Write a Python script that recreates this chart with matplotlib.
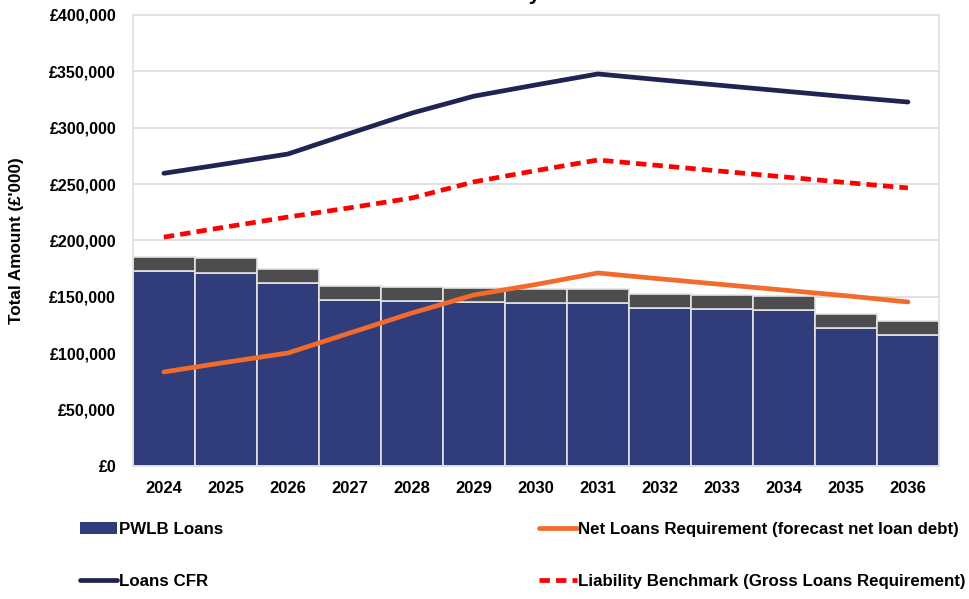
import matplotlib.pyplot as plt
from matplotlib.patches import Patch
from matplotlib.ticker import FuncFormatter

years = ["2024", "2025", "2026", "2027", "2028", "2029", "2030",
         "2031", "2032", "2033", "2034", "2035", "2036"]

# values in £'000
pwlb_loans = [173000, 171500, 162600, 147200, 146300, 145500, 144300,
              144300, 140100, 139000, 138400, 122100, 116200]
other_loans = [12400, 13000, 12400, 12400, 12700, 12100, 12400,
               12400, 12400, 12400, 12400, 12700, 12700]
loans_cfr = [259600, 268000, 276700, 295000, 313000, 328000, 338000,
             347700, 342500, 337500, 332500, 327500, 322800]
net_loans = [83400, 92000, 100200, 118000, 135700, 151700, 161000,
             171200, 166000, 161000, 156000, 151000, 145500]
liability_bm = [203000, 212000, 220800, 229000, 237700, 252000, 262000,
                271400, 266400, 261400, 256400, 251400, 246600]

plt.rcParams["font.family"] = ["Liberation Sans", "DejaVu Sans"]
plt.rcParams["font.weight"] = "bold"

fig = plt.figure(figsize=(9.7, 5.99), dpi=100)
ax = fig.add_axes([0.137, 0.222, 0.831, 0.753])

x = range(len(years))
ax.bar(x, pwlb_loans, width=1.0, color="#303D7A", edgecolor="#E3E3E3", lw=1.2, zorder=2)
ax.bar(x, other_loans, bottom=pwlb_loans, width=1.0, color="#4D4D4F", edgecolor="#E3E3E3", lw=1.2, zorder=2)

l1, = ax.plot(x, loans_cfr, color="#1F2452", lw=3.4, solid_capstyle="round", zorder=3)
l2, = ax.plot(x, net_loans, color="#F26A2C", lw=3.4, solid_capstyle="round", zorder=3)
l3, = ax.plot(x, liability_bm, color="#FF0000", lw=3.4, ls=(0, (2.2, 1.3)), zorder=3)

ax.set_xlim(-0.5, 12.5)
ax.set_ylim(0, 400000)
ax.set_yticks(range(0, 400001, 50000))
ax.yaxis.set_major_formatter(FuncFormatter(lambda v, p: f"£{int(v):,}"))
ax.set_xticks(list(x))
ax.set_xticklabels(years)
ax.tick_params(axis="both", length=0, colors="black")
ax.tick_params(axis="x", pad=11, labelsize=12)
ax.tick_params(axis="y", pad=12, labelsize=11.5)
ax.grid(axis="y", color="#DADADA", lw=1.2, zorder=0)
for s in ax.spines.values():
    s.set_color("#E0E0E0")
    s.set_linewidth(1.2)

ax.set_ylabel("Total Amount (£'000)", fontsize=12.3, fontweight="bold", labelpad=18)

# title is cut off at the top edge in the source
fig.text(0.578, 1 - 0.3 / 599, "Liability Benchmark", ha="center", va="baseline",
         fontsize=15, fontweight="bold")

pwlb_patch = Patch(facecolor="#303D7A", edgecolor="none")
leg_kw = dict(loc="upper left", frameon=False, fontsize=12.2, handlelength=2.2,
              handletextpad=0.1, labelspacing=2.2, borderpad=0, borderaxespad=0)
fig.legend([pwlb_patch, l1], ["PWLB Loans", "Loans CFR"],
           bbox_to_anchor=(0.082, 0.1286), **leg_kw)
fig.legend([l2, l3], ["Net Loans Requirement (forecast net loan debt)",
                      "Liability Benchmark (Gross Loans Requirement)"],
           bbox_to_anchor=(0.556, 0.1286), **leg_kw)

fig.savefig("out.png", dpi=100)
